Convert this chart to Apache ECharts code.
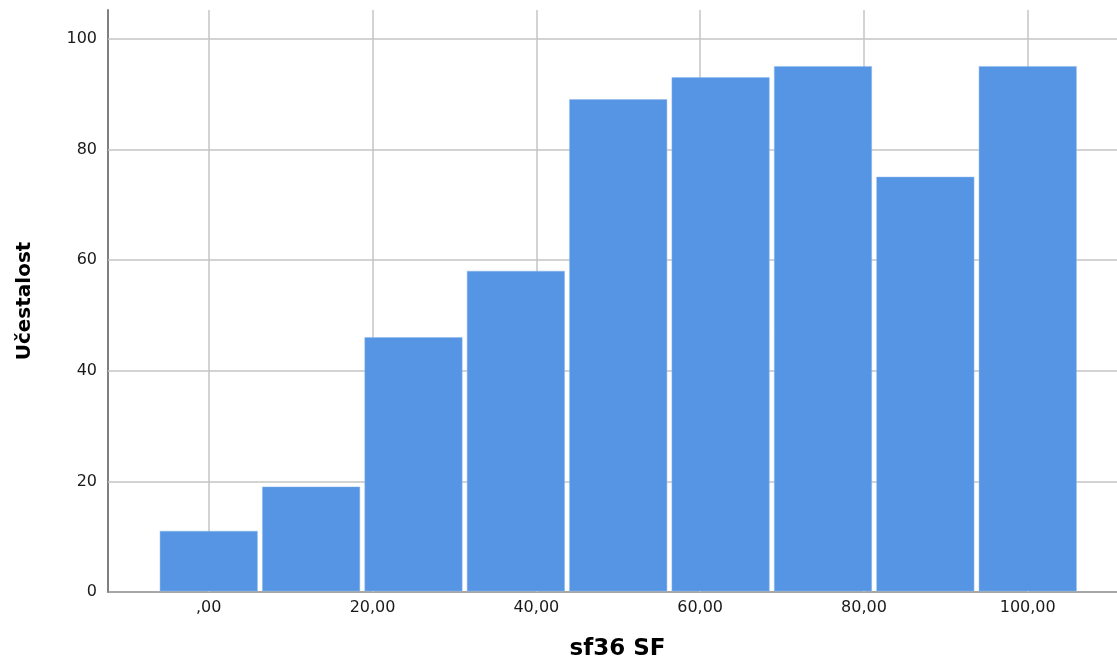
<!DOCTYPE html>
<html>
<head>
<meta charset="utf-8">
<script src="https://cdn.jsdelivr.net/npm/echarts@6/dist/echarts.min.js"></script>
<style>html,body{margin:0;padding:0;background:#fff;}#c{width:1117px;height:658px;}</style>
</head>
<body>
<div id="c"></div>
<script>
// Histogram bins (centers) and frequencies
const binCenters = [0, 12.5, 25, 37.5, 50, 62.5, 75, 87.5, 100];
const binWidth = 12.5;
const frequencies = [11, 19, 46, 58, 89, 93, 95, 75, 95];
const xTicks = [0, 20, 40, 60, 80, 100];
const yTicks = [0, 20, 40, 60, 80, 100];
const xName = 'sf36 SF';
const yName = 'Učestalost';

const chart = echarts.init(document.getElementById('c'), null, {renderer: 'canvas'});
const data = binCenters.map((c, i) => [c - binWidth / 2, c + binWidth / 2, frequencies[i]]);
const fmtX = v => (v === 0 ? ',00' : v.toFixed(2).replace('.', ','));

chart.setOption({
  animation: false,
  backgroundColor: '#ffffff',
  grid: {left: 108, top: 10, right: 0, bottom: 66, containLabel: false, outerBoundsMode: 'none'},
  xAxis: {
    type: 'value', min: -12.3, max: 110.9,
    name: xName, nameLocation: 'middle', nameGap: 46,
    nameTextStyle: {fontFamily: 'DejaVu Sans', fontSize: 23, fontWeight: 'bold', color: '#000', padding: [0, 0, 0, 10]},
    axisLine: {show: true, onZero: false, lineStyle: {color: '#8a8a8a', width: 1.5}},
    axisTick: {show: false},
    splitLine: {show: false},
    axisLabel: {customValues: xTicks, formatter: fmtX, fontFamily: 'DejaVu Sans', fontSize: 16, color: '#1a1a1a', margin: 8}
  },
  yAxis: {
    type: 'value', min: 0, max: 105.2,
    name: yName, nameLocation: 'middle', nameGap: 73,
    nameTextStyle: {fontFamily: 'DejaVu Sans', fontSize: 20, fontWeight: 'bold', color: '#000'},
    axisLine: {show: true, onZero: false, lineStyle: {color: '#808080', width: 2}},
    axisTick: {show: false},
    splitLine: {show: false},
    axisLabel: {customValues: yTicks, fontFamily: 'DejaVu Sans', fontSize: 16, color: '#1a1a1a', margin: 11}
  },
  series: [
    {
      type: 'line', data: [], silent: true, z: 1,
      markLine: {
        silent: true, symbol: 'none', z: 1, animation: false,
        label: {show: false},
        lineStyle: {color: '#c4c4c4', width: 1.5, type: 'solid'},
        data: xTicks.map(v => ({xAxis: v})).concat(yTicks.filter(v => v > 0).map(v => ({yAxis: v})))
      }
    },
    {
      type: 'custom', z: 5,
      renderItem: function (params, api) {
        const p0 = api.coord([api.value(0), 0]);
        const p1 = api.coord([api.value(1), api.value(2)]);
        return {
          type: 'rect',
          shape: {x: p0[0] + 2.5, y: p1[1], width: p1[0] - p0[0] - 5, height: p0[1] - p1[1] - 1},
          style: {fill: '#5595e3', stroke: '#8fb8ee', lineWidth: 0.5}
        };
      },
      encode: {x: [0, 1], y: 2},
      data: data
    }
  ]
});
</script>
</body>
</html>
